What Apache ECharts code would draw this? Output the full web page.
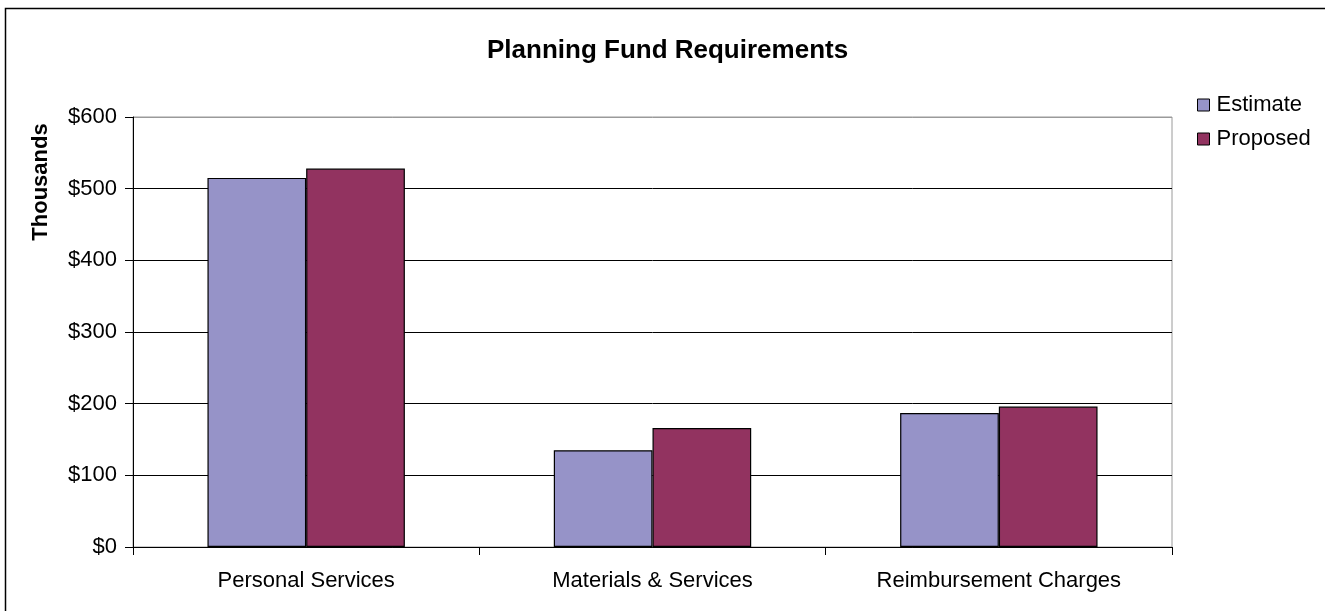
<!DOCTYPE html>
<html>
<head>
<meta charset="utf-8">
<script src="https://cdn.jsdelivr.net/npm/echarts@6/dist/echarts.min.js"></script>
<style>
  html, body { margin: 0; padding: 0; background: #ffffff; }
  #chart { width: 1325px; height: 611px; }
</style>
</head>
<body>
<div id="chart"></div>
<script>
// Planning fund requirements, in thousands of dollars
var categories = ['Personal Services', 'Materials & Services', 'Reimbursement Charges'];
var estimate = [515, 135, 187];
var proposed = [528, 166, 196];
var yTicks = [0, 100, 200, 300, 400, 500, 600];

var FONT = '"Liberation Sans", Arial, sans-serif';

var chart = echarts.init(document.getElementById('chart'), null, { renderer: 'canvas' });

chart.setOption({
  backgroundColor: '#ffffff',
  animation: false,
  title: {
    text: 'Planning Fund Requirements',
    left: 487,
    top: 38,
    padding: 0,
    textStyle: { fontFamily: FONT, fontSize: 26, fontWeight: 'bold', color: '#000000' }
  },
  legend: {
    orient: 'vertical',
    left: 1197,
    top: 94,
    padding: 0,
    itemGap: 12,
    itemWidth: 12,
    itemHeight: 12,
    icon: 'rect',
    textStyle: { fontFamily: FONT, fontSize: 22, color: '#000000', lineHeight: 22, padding: [0, 0, 0, 2] },
    itemStyle: { borderColor: '#000000', borderWidth: 1 },
    data: ['Estimate', 'Proposed']
  },
  grid: {
    left: 133,
    right: 153,
    top: 117,
    bottom: 64,
    show: true,
    borderColor: '#9a9a9a',
    borderWidth: 1,
    backgroundColor: '#ffffff',
    containLabel: false
  },
  xAxis: {
    type: 'category',
    data: categories,
    axisLine: { lineStyle: { color: '#000000', width: 1 } },
    axisTick: { show: true, length: 8, lineStyle: { color: '#000000' } },
    axisLabel: { fontFamily: FONT, fontSize: 22, color: '#000000', margin: 23 },
    splitLine: { show: false }
  },
  yAxis: {
    type: 'value',
    min: yTicks[0],
    max: yTicks[yTicks.length - 1],
    interval: 100,
    axisLine: { show: true, lineStyle: { color: '#000000', width: 1 } },
    axisTick: { show: true, length: 8, lineStyle: { color: '#000000' } },
    axisLabel: {
      fontFamily: FONT, fontSize: 22, color: '#000000', margin: 16,
      formatter: function (v) { return '$' + v; }
    },
    splitLine: {
      show: true,
      lineStyle: {
        color: ['#000000', '#000000', '#000000', '#000000', '#000000', '#000000', '#9a9a9a'],
        width: 1
      }
    }
  },
  series: [
    {
      name: 'Estimate',
      type: 'bar',
      data: estimate,
      barGap: '0%',
      barCategoryGap: '43%',
      itemStyle: { color: '#9693c8', borderColor: '#000000', borderWidth: 1.2 }
    },
    {
      name: 'Proposed',
      type: 'bar',
      data: proposed,
      barGap: '0%',
      barCategoryGap: '43%',
      itemStyle: { color: '#923360', borderColor: '#000000', borderWidth: 1.2 }
    }
  ],
  graphic: [
    {
      type: 'rect',
      silent: true,
      shape: { x: 5.5, y: 8.5, width: 1400, height: 700 },
      style: { fill: 'none', stroke: '#000000', lineWidth: 1.5 },
      z: 100
    },
    {
      type: 'text',
      silent: true,
      x: 41,
      y: 182,
      rotation: Math.PI / 2,
      style: {
        text: 'Thousands',
        fontFamily: FONT,
        fontSize: 22,
        fontWeight: 'bold',
        fill: '#000000',
        align: 'center',
        verticalAlign: 'middle'
      }
    }
  ]
});
</script>
</body>
</html>
